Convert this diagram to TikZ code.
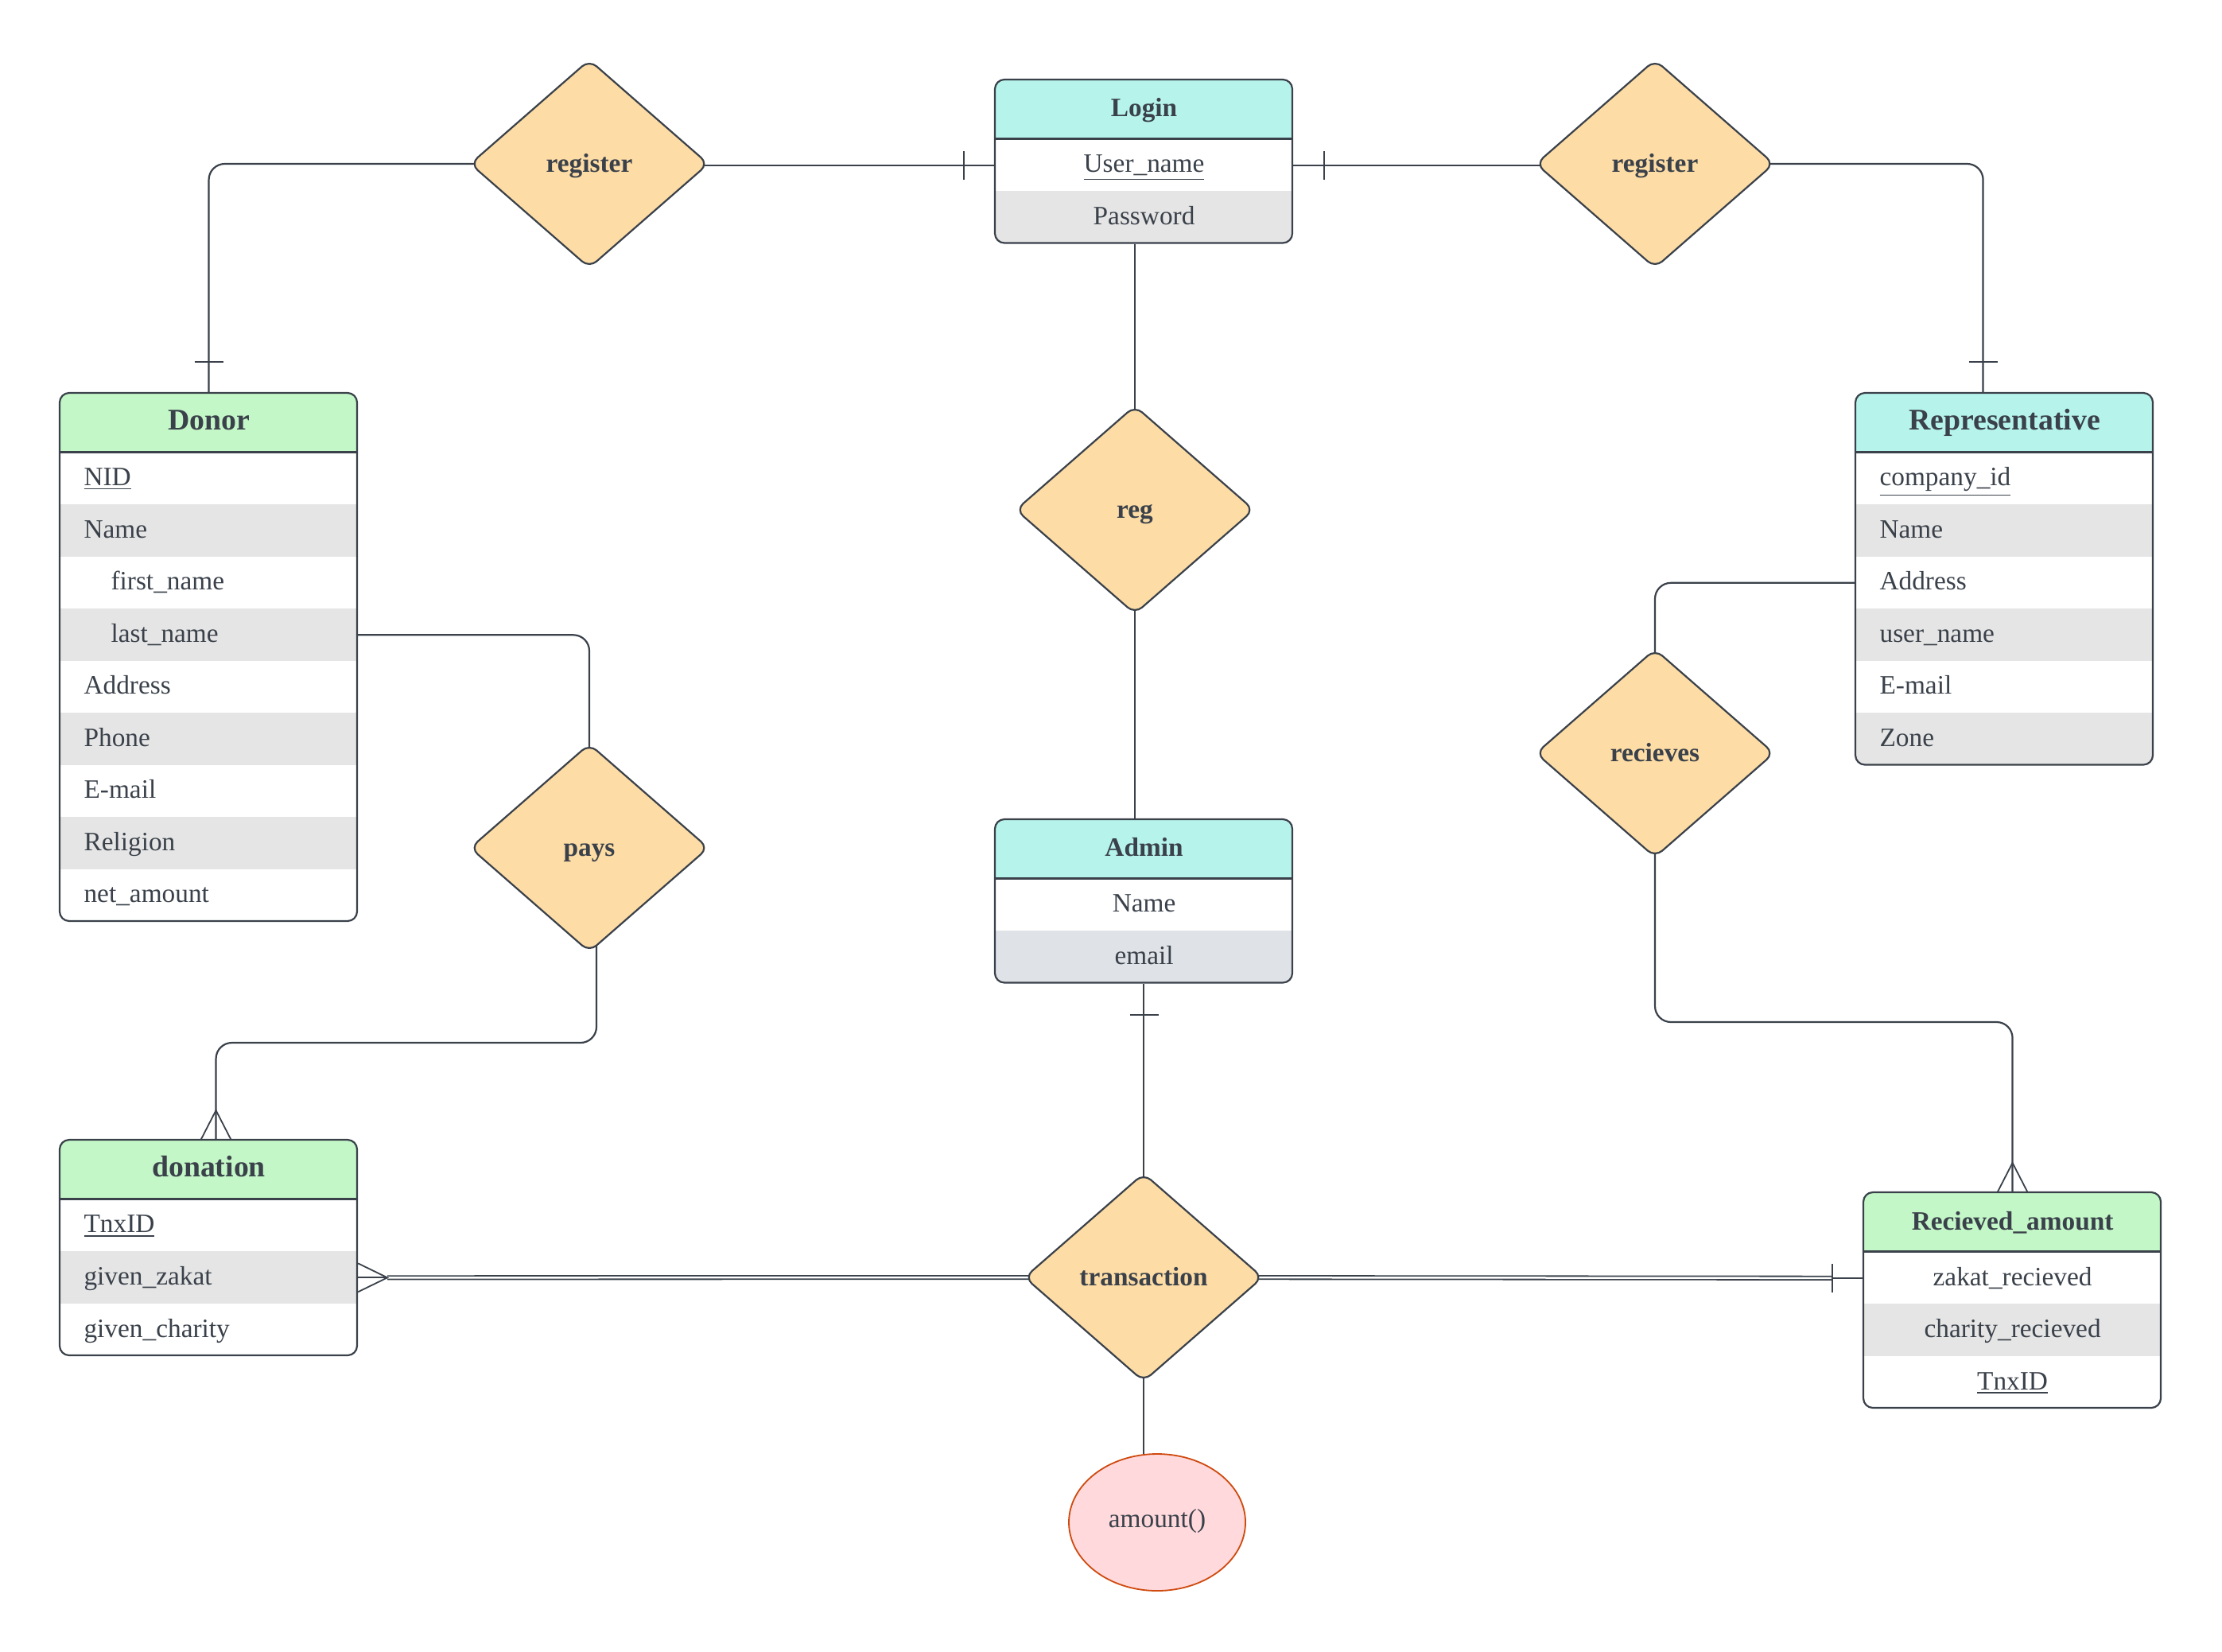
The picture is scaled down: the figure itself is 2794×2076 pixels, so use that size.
\documentclass[tikz,border=0pt]{standalone}
\usepackage{fontspec}
\setmainfont{Liberation Serif}
\usetikzlibrary{shapes.geometric,calc,backgrounds}

% one drawing unit
\newdimen\pxunit \pxunit=0.36pt

\definecolor{ink}{HTML}{3A414A}
\definecolor{mint}{HTML}{B6F4EB}
\definecolor{leaf}{HTML}{C3F7C7}
\definecolor{rowgray}{HTML}{E5E5E5}
\definecolor{rowblue}{HTML}{DFE2E6}
\definecolor{sand}{HTML}{FDDCA5}
\definecolor{rose}{HTML}{FFD9DC}
\definecolor{rust}{HTML}{CF4A0E}

\tikzset{
  conn/.style={draw=ink, line width=2.2*\pxunit},
  onebar/.style={draw=ink, line width=1.8*\pxunit},
  crow/.style={draw=ink, line width=1.8*\pxunit},
  dblconn/.style={draw=ink, double=white, line width=1.8*\pxunit, double distance=2.5*\pxunit},
  elbow/.style={rounded corners=20*\pxunit},
  title/.style={anchor=north west, minimum width=374*\pxunit, minimum height=74.5*\pxunit,
    inner sep=0, text height=0.66em, text depth=0pt, text=ink,
    font=\bfseries\fontsize{12}{14}\selectfont},
  bigtitle/.style={title, font=\bfseries\fontsize{13.6}{16}\selectfont},
  rowl/.style={anchor=north west, minimum height=65.5*\pxunit, inner xsep=30*\pxunit,
    inner ysep=0, text width=314*\pxunit, align=left, text height=0.66em, text depth=0pt,
    text=ink, font=\fontsize{12}{14}\selectfont},
  rowc/.style={rowl, inner xsep=0, text width=374*\pxunit, align=center},
  rel/.style={diamond, draw=ink, fill=sand, line width=2.2*\pxunit, rounded corners=12*\pxunit,
    minimum width=300*\pxunit, minimum height=262*\pxunit, inner sep=0,
    text height=0.74em, text depth=0pt, text=ink, font=\bfseries\fontsize{12}{14}\selectfont},
  attr/.style={ellipse, draw=rust, fill=rose, line width=1.8*\pxunit,
    minimum width=222*\pxunit, minimum height=172*\pxunit, inner sep=0,
    text height=0.46em, text depth=0pt, text=ink, font=\fontsize{12}{14}\selectfont},
}

% entity table frame: left, top, number of rows, header colour, colour of even rows
\newcommand\erbox[5]{%
  \pgfmathsetmacro\erbot{#2+74.5+65.5*#3}%
  \begin{scope}
    \clip[rounded corners=12*\pxunit] (#1,#2) rectangle ({#1+374},\erbot);
    \fill[#4] (#1,#2) rectangle ({#1+374},{#2+74.5});
    \foreach \k in {1,...,#3}{%
      \ifodd\k\relax\else
        \fill[#5] (#1,{#2+74.5+65.5*(\k-1)}) rectangle ({#1+374},{#2+74.5+65.5*\k});
      \fi}
  \end{scope}
  \draw[conn] (#1,{#2+74.5}) -- ({#1+374},{#2+74.5});
  \draw[conn, rounded corners=12*\pxunit] (#1,#2) rectangle ({#1+374},\erbot);
}

\begin{document}
\begin{tikzpicture}[x=\pxunit, y=-\pxunit]
\useasboundingbox (0,0) rectangle (2794,2076);
\begin{scope}[on background layer]
  \fill[white] (0,0) rectangle (2794,2076);
\end{scope}

% ---------- entities ----------
\erbox{1251}{100}{2}{mint}{rowgray}
\node[title] (login) at (1251,100) {Login};
\node[rowc] (login-1) at (1251,174.5) {\underline{User\_name}};
\node[rowc] (login-2) at (1251,240) {Password};

\erbox{75}{494}{9}{leaf}{rowgray}
\node[bigtitle] (donor) at (75,494) {Donor};
\node[rowl] (donor-1) at (75,568.5) {\underline{NID}};
\node[rowl] (donor-2) at (75,634) {Name};
\node[rowl] (donor-3) at (75,699.5) {\hspace*{34\pxunit}first\_name};
\node[rowl] (donor-4) at (75,765) {\hspace*{34\pxunit}last\_name};
\node[rowl] (donor-5) at (75,830.5) {Address};
\node[rowl] (donor-6) at (75,896) {Phone};
\node[rowl] (donor-7) at (75,961.5) {E-mail};
\node[rowl] (donor-8) at (75,1027) {Religion};
\node[rowl] (donor-9) at (75,1092.5) {net\_amount};

\erbox{2333}{494}{6}{mint}{rowgray}
\node[bigtitle] (rep) at (2333,494) {Representative};
\node[rowl] (rep-1) at (2333,568.5) {\underline{company\_id}};
\node[rowl] (rep-2) at (2333,634) {Name};
\node[rowl] (rep-3) at (2333,699.5) {Address};
\node[rowl] (rep-4) at (2333,765) {user\_name};
\node[rowl] (rep-5) at (2333,830.5) {E-mail};
\node[rowl] (rep-6) at (2333,896) {Zone};

\erbox{1251}{1030}{2}{mint}{rowblue}
\node[title] (admin) at (1251,1030) {Admin};
\node[rowc] (admin-1) at (1251,1104.5) {Name};
\node[rowc] (admin-2) at (1251,1170) {email};

\erbox{75}{1433}{3}{leaf}{rowgray}
\node[bigtitle] (donation) at (75,1433) {donation};
\node[rowl] (donation-1) at (75,1507.5) {\underline{TnxID}};
\node[rowl] (donation-2) at (75,1573) {given\_zakat};
\node[rowl] (donation-3) at (75,1638.5) {given\_charity};

\erbox{2343}{1499}{3}{leaf}{rowgray}
\node[title] (recv) at (2343,1499) {Recieved\_amount};
\node[rowc] (recv-1) at (2343,1573.5) {zakat\_recieved};
\node[rowc] (recv-2) at (2343,1639) {charity\_recieved};
\node[rowc] (recv-3) at (2343,1704.5) {\underline{TnxID}};

% ---------- relationships ----------
\node[rel] (regL) at (741,206) {register};
\node[rel] (regR) at (2081,206) {register};
\node[rel] (reg) at (1427,641) {reg};
\node[rel] (pays) at (741,1066) {pays};
\node[rel] (recvs) at (2081,947) {recieves};
\node[rel] (trans) at (1438,1606) {transaction};
\node[attr] (amount) at (1455,1914) {amount()};

% ---------- connectors ----------
\coordinate (repTop) at ($(rep.north)+(-27,0)$);
\coordinate (paysOut) at ($(pays.center)+(9,0)$);
\coordinate (donTop) at ($(donation.north)+(9,0)$);
\coordinate (donApex) at ($(donTop)+(0,-37)$);
\coordinate (recvApex) at ($(recv.north)+(0,-37)$);
\coordinate (zakApex) at ($(donation-2.east)+(37,0)$);
\coordinate (recvBar) at ($(recv-1.west)+(-39,0)$);

% lines leave the relationship shapes from their centres and run under their fill
\begin{scope}[on background layer]
  \draw[conn, elbow] (regL.center) -| (donor.north);
  \draw[conn] (regL.center |- login-1.west) -- (login-1.west);
  \draw[conn] (login-1.east) -- (login-1.east -| regR.center);
  \draw[conn, elbow] (regR.center) -| (repTop);
  \draw[conn] (reg.center |- login-2.south) -- (reg.center);
  \draw[conn] (reg.center) -- (reg.center |- admin.north);
  \draw[conn, elbow] (donor-4.east) -| (pays.center);
  \draw[conn, elbow] (paysOut) |- ($(donTop)+(0,-122)$) -- (donTop);
  \draw[dblconn] (trans.center) -- (zakApex);
  \draw[conn] (zakApex) -- (donation-2.east);
  \draw[dblconn] (trans.center) -- (recvBar);
  \draw[conn] (recvBar) -- (recv-1.west);
  \draw[conn] (admin-2.south -| trans.center) -- (trans.center);
  \draw[conn] (trans.center) -- (trans.center |- amount.center);
  \draw[conn, elbow] (rep-3.west) -| (recvs.center);
  \draw[conn, elbow] (recvs.center) |- ($(recv.north)+(0,-214)$) -- (recv.north);
\end{scope}

% one-side bars
\draw[onebar] ($(donor.north)+(-18,-39)$) -- ++(36,0);
\draw[onebar] ($(repTop)+(-18,-39)$) -- ++(36,0);
\draw[onebar] ($(login-1.west)+(-39,-18)$) -- ++(0,36);
\draw[onebar] ($(login-1.east)+(39,-18)$) -- ++(0,36);
\draw[onebar] ($(admin-2.south)+(-18,39)$) -- ++(36,0);
\draw[onebar] ($(recvBar)+(0,-18)$) -- ++(0,36);

% many-side crow's feet
\draw[crow] ($(donTop)+(-19,0)$) -- (donApex) -- ($(donTop)+(19,0)$);
\draw[crow] ($(recv.north)+(-19,0)$) -- (recvApex) -- ($(recv.north)+(19,0)$);
\draw[crow] ($(donation-2.east)+(0,-18)$) -- (zakApex) -- ($(donation-2.east)+(0,18)$);
\end{tikzpicture}
\end{document}
